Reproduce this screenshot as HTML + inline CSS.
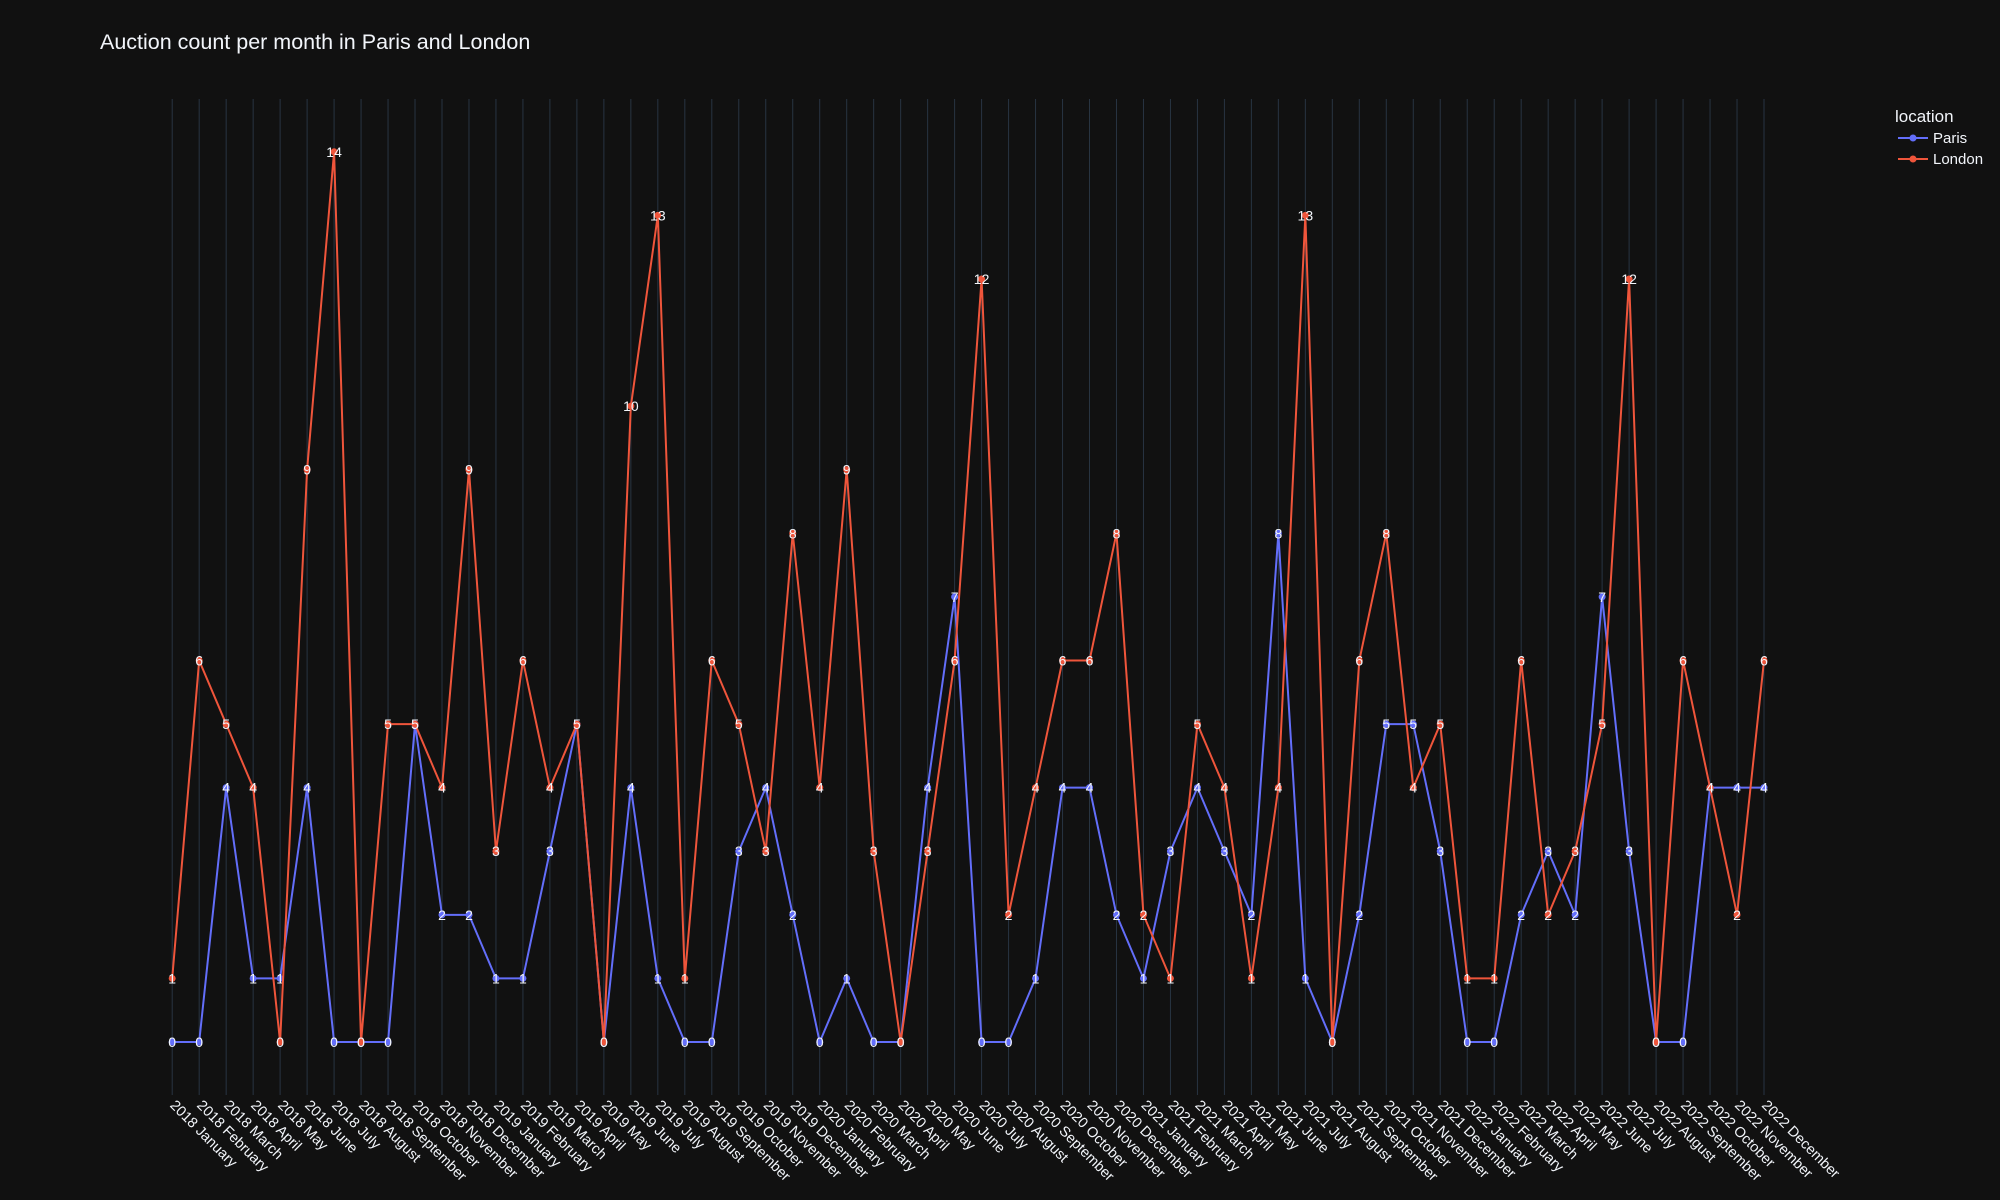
<!DOCTYPE html>
<html><head><meta charset="utf-8"><style>
html,body{margin:0;padding:0;background:#111111;}
svg{display:block;font-family:"Liberation Sans","DejaVu Sans",sans-serif;}
</style></head><body>
<svg id="chart" width="2000" height="1200" viewBox="0 0 2000 1200">
<rect width="2000" height="1200" fill="#111111"/>
<text x="100" y="49" fill="#f2f5fa" font-size="21.5">Auction count per month in Paris and London</text>
<g id="grid"></g>
<g id="ticks"></g>
<g id="series"></g>
<g>
<text x="1895" y="122" fill="#f2f5fa" font-size="17">location</text>
<g>
<line x1="1898" y1="138" x2="1928" y2="138" stroke="#636efa" stroke-width="2"/>
<circle cx="1913" cy="138" r="3.5" fill="#636efa"/>
<text x="1933" y="143" fill="#f2f5fa" font-size="15">Paris</text></g>
<g>
<line x1="1898" y1="159" x2="1928" y2="159" stroke="#EF553B" stroke-width="2"/>
<circle cx="1913" cy="159" r="3.5" fill="#EF553B"/>
<text x="1933" y="164" fill="#f2f5fa" font-size="15">London</text></g>
</g>
</svg>
<script>
const years = [2018, 2019, 2020, 2021, 2022];
const months = ["January","February","March","April","May","June","July","August","September","October","November","December"];
const paris = [0,0,4,1,1,4,0,0,0,5,2,2, 1,1,3,5,0,4,1,0,0,3,4,2, 0,1,0,0,4,7,0,0,1,4,4,2, 1,3,4,3,2,8,1,0,2,5,5,3, 0,0,2,3,2,7,3,0,0,4,4,4];
const london = [1,6,5,4,0,9,14,0,5,5,4,9, 3,6,4,5,0,10,13,1,6,5,3,8, 4,9,3,0,3,6,12,2,4,6,6,8, 2,1,5,4,1,4,13,0,6,8,4,5, 1,1,6,2,3,5,12,0,6,4,2,6];
const categories = [];
years.forEach(y => months.forEach(m => categories.push(y + " " + m)));

const NS = "http://www.w3.org/2000/svg";
const X0 = 172.2, X1 = 1764, Y0 = 1042, Y14 = 151.8;
const xs = i => X0 + i * (X1 - X0) / (categories.length - 1);
const ys = v => Y0 - v * (Y0 - Y14) / 14;
function mk(tag, attrs, parent) {
  const e = document.createElementNS(NS, tag);
  for (const k in attrs) e.setAttribute(k, attrs[k]);
  parent.appendChild(e);
  return e;
}
const grid = document.getElementById("grid");
const ticks = document.getElementById("ticks");
categories.forEach((c, i) => {
  const x = xs(i);
  const gl = mk("line", {x1: x, x2: x, y1: 99, y2: 1095, stroke: "#283442", "stroke-width": 1}, grid);
  
  
  const t = mk("text", {transform: `translate(${x - 3},${1106}) rotate(45)`, fill: "#f2f5fa", "font-size": 14.5}, ticks);
  t.textContent = c;
  
  
});
const series = document.getElementById("series");
function drawSeries(vals, color, name) {
  const g = mk("g", {}, series);
  
  
  const pts = vals.map((v, i) => xs(i) + "," + ys(v)).join(" ");
  const pl = mk("polyline", {points: pts, fill: "none", stroke: color, "stroke-width": 2, "stroke-linejoin": "round"}, g);
  
  
  vals.forEach((v, i) => {
    const c = mk("circle", {cx: xs(i), cy: ys(v), r: 3.5, fill: color}, g);
    
    
    const t = mk("text", {x: xs(i), y: ys(v) + 5, fill: "#f2f5fa", "font-size": 14, "text-anchor": "middle"}, g);
    t.textContent = v;
    
    
  });
}
drawSeries(paris, "#636efa", "paris");
drawSeries(london, "#EF553B", "london");
</script>
</body></html>
